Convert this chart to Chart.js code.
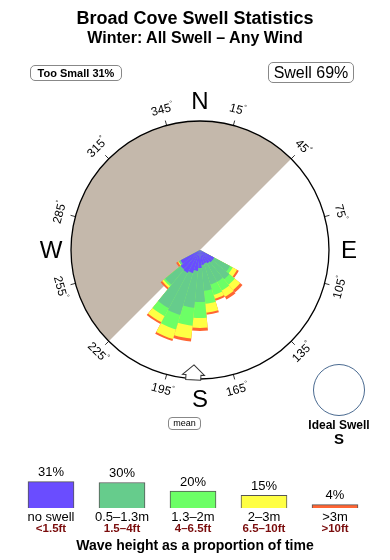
<!DOCTYPE html>
<html>
<head>
<meta charset="utf-8">
<script src="https://cdn.jsdelivr.net/npm/chart.js@4.4.1/dist/chart.umd.min.js"></script>
<style>
  body { margin: 0; background: #fff; font-family: "Liberation Sans", Arial, Helvetica, sans-serif; }
  #page { position: relative; width: 390px; height: 560px; overflow: hidden; }
  canvas { position: absolute; left: 0; }
  .txt { position: absolute; left: 0; width: 390px; text-align: center; color: #000; white-space: nowrap; }
  .box { position: absolute; border: 1px solid #888; border-radius: 5px; text-align: center; box-sizing: border-box; white-space: nowrap; }
</style>
</head>
<body>
<div id="page">
  <canvas id="rose" width="390" height="440" style="top:0"></canvas>
  <canvas id="bands" width="390" height="120" style="top:440px"></canvas>

  <div class="txt" style="top:8px; font: bold 18px/20px 'Liberation Sans', Arial, sans-serif;">Broad Cove Swell Statistics</div>
  <div class="txt" style="top:29px; font: bold 16px/18px 'Liberation Sans', Arial, sans-serif;">Winter: All Swell – Any Wind</div>

  <div class="box" style="left:30px; top:65px; width:92px; height:16px; font: bold 11px/14px 'Liberation Sans', Arial, sans-serif;">Too Small 31%</div>
  <div class="box" style="left:268px; top:62px; width:86px; height:21px; font: 16px/19px 'Liberation Sans', Arial, sans-serif;">Swell 69%</div>

  <div class="box" style="left:168px; top:417px; width:33px; height:13px; border-radius:4px; font: 9px/11px 'Liberation Sans', Arial, sans-serif;">mean</div>

  <div style="position:absolute; left:313px; top:364px; width:52px; height:52px; border:1px solid #4a6a90; border-radius:50%; box-sizing:border-box;"></div>
  <div class="txt" style="left:289px; width:100px; top:418px; font: bold 12px/14px 'Liberation Sans', Arial, sans-serif;">Ideal Swell</div>
  <div class="txt" style="left:289px; width:100px; top:431px; font: bold 15px/16px 'Liberation Sans', Arial, sans-serif;">S</div>

  <div class="txt" style="top:537px; font: bold 14px/17px 'Liberation Sans', Arial, sans-serif;">Wave height as a proportion of time</div>
</div>

<script>
// 32 point compass, N first, clockwise
const compassPoints = ['N','NbE','NNE','NEbN','NE','NEbE','ENE','EbN','E','EbS','ESE','SEbE',
  'SE','SEbS','SSE','SbE','S','SbW','SSW','SWbS','SW','SWbW','WSW','WbS',
  'W','WbN','WNW','NWbW','NW','NWbN','NNW','NbW'];

// sectors that have swell, and the outer edge of each height band (rose units, rim = 129)
const roseSectors = ['SEbE','SE','SEbS','SSE','SbE','S','SbW','SSW','SWbS','SW','SWbW'];
const noSwellEdge = [16, 16, 15, 14, 15, 18, 21, 24, 26, 25, 22];
const smallEdge   = [34, 38, 36, 36, 41, 52, 58, 68, 66, 45, 24];
const mediumEdge  = [37, 45, 46, 47, 54, 68, 76, 83, 75, 47, 24];
const largeEdge   = [42, 52, 53, 51, 63, 78, 89, 93, 82, 49, 25];
const hugeEdge    = [44, 55, 56, 53, 65, 81, 92, 95, 84, 51, 27];

// legend bands
const bandPercent = [31, 30, 20, 15, 4];
const bandMetric = ['no swell', '0.5–1.3m', '1.3–2m', '2–3m', '>3m'];
const bandFeet = ['<1.5ft', '1.5–4ft', '4–6.5ft', '6.5–10ft', '>10ft'];
const bandColors = ['#6a4dff', '#66cc8c', '#6cff66', '#ffff44', '#ff6533'];

const degreeTicks = [15, 45, 75, 105, 135, 165, 195, 225, 255, 285, 315, 345];
const cardinals = ['N', 'E', 'S', 'W'];
const landFrom = 225, landTo = 45;   // shaded land, clockwise from -> to
const meanDirection = 183;

const FONT = "'Liberation Sans', Arial, Helvetica, sans-serif";
const rad = d => d * Math.PI / 180;

function spread(values) {
    const out = compassPoints.map(() => 0);
    roseSectors.forEach((s, i) => { out[compassPoints.indexOf(s)] = values[i]; });
    return out;
}

const roseDecor = {
    id: 'roseDecor',
    beforeDatasetsDraw(chart) {
        const s = chart.scales.r, ctx = chart.ctx;
        const cx = s.xCenter, cy = s.yCenter, R = s.drawingArea;
        ctx.save();
        ctx.fillStyle = '#c4b8ab';
        ctx.beginPath();
        ctx.moveTo(cx, cy);
        ctx.arc(cx, cy, R, rad(landFrom - 90), rad(landTo + 360 - 90));
        ctx.closePath();
        ctx.fill();
        ctx.restore();
    },
    afterDatasetsDraw(chart) {
        const s = chart.scales.r, ctx = chart.ctx;
        const cx = s.xCenter, cy = s.yCenter, R = s.drawingArea;
        ctx.save();
        ctx.strokeStyle = '#000';
        ctx.lineWidth = 1.3;
        ctx.beginPath();
        ctx.arc(cx, cy, R, 0, Math.PI * 2);
        ctx.stroke();

        // ticks and degree labels
        ctx.lineWidth = 0.8;
        ctx.fillStyle = '#000';
        degreeTicks.forEach(b => {
            const a = rad(b - 90);
            ctx.beginPath();
            ctx.moveTo(cx + R * Math.cos(a), cy + R * Math.sin(a));
            ctx.lineTo(cx + (R + 5) * Math.cos(a), cy + (R + 5) * Math.sin(a));
            ctx.stroke();

            const x = cx + (R + 16) * Math.cos(a), y = cy + (R + 16) * Math.sin(a);
            const rot = (b > 90 && b < 270) ? b - 180 : b;
            ctx.save();
            ctx.translate(x, y);
            ctx.rotate(rad(rot));
            ctx.textBaseline = 'middle';
            ctx.textAlign = 'left';
            ctx.font = '12px ' + FONT;
            const w = ctx.measureText(String(b)).width;
            ctx.font = '7px ' + FONT;
            const dw = ctx.measureText('°').width;
            ctx.font = '12px ' + FONT;
            ctx.fillText(String(b), -(w + dw) / 2, 0);
            ctx.font = '7px ' + FONT;
            ctx.fillText('°', -(w + dw) / 2 + w, -4);
            ctx.restore();
        });

        // N E S W
        ctx.font = '24px ' + FONT;
        ctx.textAlign = 'center';
        ctx.textBaseline = 'middle';
        cardinals.forEach((c, i) => {
            const a = rad(i * 90 - 90);
            ctx.fillText(c, cx + (R + 20) * Math.cos(a), cy + (R + 20) * Math.sin(a) + 1);
        });

        // mean direction arrow on the rim
        ctx.translate(cx, cy);
        ctx.rotate(rad(meanDirection - 180));
        ctx.beginPath();
        ctx.moveTo(0, R - 14);
        ctx.lineTo(11, R - 4);
        ctx.lineTo(7.5, R - 4);
        ctx.lineTo(7.5, R + 1);
        ctx.lineTo(-7.5, R + 1);
        ctx.lineTo(-7.5, R - 4);
        ctx.lineTo(-11, R - 4);
        ctx.closePath();
        ctx.fillStyle = '#fff';
        ctx.fill();
        ctx.lineWidth = 1;
        ctx.strokeStyle = '#333';
        ctx.stroke();
        ctx.restore();
    }
};

new Chart(document.getElementById('rose'), {
    type: 'polarArea',
    data: {
        labels: compassPoints,
        // first dataset is painted last, so inner bands sit on top
        datasets: [noSwellEdge, smallEdge, mediumEdge, largeEdge, hugeEdge].map((edge, i) => ({
            label: bandMetric[i],
            data: spread(edge),
            backgroundColor: bandColors[i],
            borderWidth: 0
        }))
    },
    options: {
        responsive: false,
        animation: false,
        events: [],
        layout: { padding: { left: 71, right: 61, top: 121, bottom: 61 } },
        scales: {
            r: {
                min: 0,
                max: 129,
                startAngle: -5.625,
                ticks: { display: false },
                grid: { display: false },
                angleLines: { display: false },
                pointLabels: { display: false }
            }
        },
        plugins: { legend: { display: false }, tooltip: { enabled: false } }
    },
    plugins: [roseDecor]
});

const bandLabels = {
    id: 'bandLabels',
    afterDatasetsDraw(chart) {
        const ctx = chart.ctx;
        const bars = chart.getDatasetMeta(0).data;
        ctx.save();
        ctx.textAlign = 'center';
        ctx.textBaseline = 'middle';
        bars.forEach((bar, i) => {
            ctx.fillStyle = '#000';
            ctx.font = '13px ' + FONT;
            ctx.fillText(bandPercent[i] + '%', bar.x, bar.y - 9);
            ctx.fillText(bandMetric[i], bar.x, 77);
            ctx.fillStyle = '#7a0c0c';
            ctx.font = 'bold 11.5px ' + FONT;
            ctx.fillText(bandFeet[i], bar.x, 89);
        });
        ctx.restore();
    }
};

new Chart(document.getElementById('bands'), {
    type: 'bar',
    data: {
        labels: bandMetric,
        datasets: [{
            data: bandPercent,
            backgroundColor: bandColors,
            borderColor: '#555',
            borderWidth: 1,
            barThickness: 46
        }]
    },
    options: {
        responsive: false,
        animation: false,
        events: [],
        layout: { padding: { left: 15.5, right: 19.5, top: 34, bottom: 52 } },
        scales: {
            x: { display: false },
            y: { display: false, min: 0, max: 40 }
        },
        plugins: { legend: { display: false }, tooltip: { enabled: false } }
    },
    plugins: [bandLabels]
});
</script>
</body>
</html>
